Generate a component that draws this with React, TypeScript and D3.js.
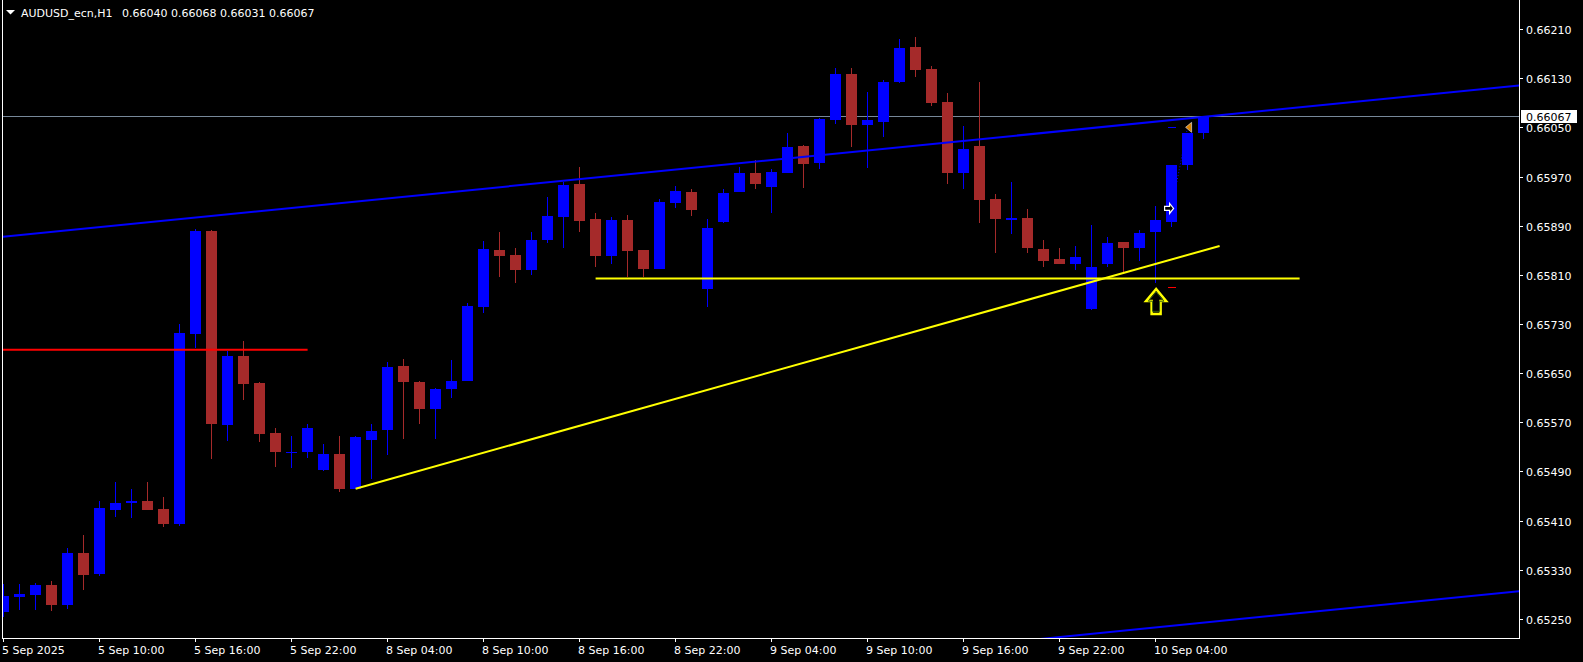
import React, { useEffect, useRef } from "react";
import * as d3 from "d3";

const symbolTitle = "AUDUSD_ecn,H1";
const lastQuote = ["0.66040", "0.66068", "0.66031", "0.66067"];

// hourly bars, 5 Sep 04:00 .. 10 Sep 07:00
const opens = [
  0.65262, 0.65286, 0.65289, 0.65305, 0.65273, 0.65357, 0.65323, 0.65428, 0.65439, 0.65442,
  0.65429, 0.65405, 0.65714, 0.65881, 0.65566, 0.65678, 0.65634, 0.65553, 0.65521, 0.65521,
  0.65493, 0.65518, 0.65462, 0.65542, 0.65558, 0.65662, 0.65636, 0.65591, 0.65624, 0.65638,
  0.65758, 0.6585, 0.65842, 0.65818, 0.65866, 0.65904, 0.65958, 0.65901, 0.6584, 0.65899,
  0.6585, 0.6582, 0.65927, 0.65945, 0.65787, 0.65896, 0.65945, 0.65976, 0.65953, 0.65976,
  0.6602, 0.65992, 0.66062, 0.66137, 0.66053, 0.66059, 0.66123, 0.66181, 0.66145, 0.66091,
  0.65976, 0.6602, 0.65933, 0.659, 0.65902, 0.65852, 0.65835, 0.65828, 0.65754, 0.65828,
  0.65863, 0.65853, 0.65879, 0.65896, 0.65988, 0.6604,
];
const highs = [
  0.65307, 0.65307, 0.65309, 0.65312, 0.65366, 0.65387, 0.65442, 0.65473, 0.65462, 0.65473,
  0.65448, 0.6573, 0.65885, 0.65883, 0.65686, 0.65702, 0.65635, 0.65561, 0.65548, 0.65567,
  0.65535, 0.65548, 0.65548, 0.65567, 0.65668, 0.65673, 0.65637, 0.65626, 0.65671, 0.65764,
  0.65865, 0.6588, 0.65854, 0.6588, 0.65937, 0.65961, 0.65985, 0.65911, 0.65904, 0.65907,
  0.65851, 0.65933, 0.65955, 0.6595, 0.65901, 0.6595, 0.65985, 0.65997, 0.65982, 0.66041,
  0.66021, 0.66065, 0.66147, 0.66147, 0.66108, 0.66127, 0.66194, 0.66197, 0.6615, 0.66106,
  0.66052, 0.66124, 0.65942, 0.65961, 0.65917, 0.65867, 0.65854, 0.65857, 0.65891, 0.65872,
  0.65864, 0.65883, 0.65922, 0.65989, 0.66041, 0.66068,
];
const lows = [
  0.65253, 0.65265, 0.65265, 0.65263, 0.65266, 0.65297, 0.6532, 0.65416, 0.65415, 0.65427,
  0.654, 0.65402, 0.65691, 0.65511, 0.6554, 0.65606, 0.65538, 0.65498, 0.65496, 0.65512,
  0.6549, 0.65457, 0.65461, 0.65478, 0.65517, 0.65543, 0.65568, 0.65543, 0.6561, 0.65637,
  0.65748, 0.65807, 0.65797, 0.65809, 0.65862, 0.65853, 0.65879, 0.65823, 0.65828, 0.65807,
  0.65807, 0.65819, 0.65918, 0.65905, 0.65757, 0.65895, 0.65944, 0.65949, 0.65911, 0.65975,
  0.65952, 0.65983, 0.66056, 0.66018, 0.65984, 0.66035, 0.66122, 0.66132, 0.66084, 0.65958,
  0.65949, 0.65895, 0.65846, 0.65877, 0.65846, 0.65823, 0.65827, 0.65818, 0.65753, 0.65822,
  0.65813, 0.65833, 0.65797, 0.65888, 0.65981, 0.66031,
];
const closes = [
  0.65287, 0.65291, 0.65305, 0.65273, 0.65357, 0.65322, 0.65431, 0.65439, 0.65442, 0.65428,
  0.65405, 0.65715, 0.65881, 0.65568, 0.65678, 0.65633, 0.65551, 0.65521, 0.65522, 0.65561,
  0.65518, 0.65462, 0.65546, 0.65556, 0.6566, 0.65635, 0.65591, 0.65624, 0.65637, 0.65759,
  0.65852, 0.65841, 0.65818, 0.65867, 0.65906, 0.65956, 0.65898, 0.6584, 0.65899, 0.65849,
  0.6582, 0.65928, 0.65946, 0.65916, 0.65886, 0.65943, 0.65976, 0.65957, 0.65977, 0.66018,
  0.65991, 0.66064, 0.66137, 0.66053, 0.66062, 0.66124, 0.66179, 0.66144, 0.6609, 0.65975,
  0.66015, 0.65931, 0.65901, 0.65902, 0.65853, 0.65833, 0.65828, 0.65839, 0.65823, 0.65862,
  0.65853, 0.65878, 0.65899, 0.65989, 0.66041, 0.66067,
];

const timeTickBars = [0, 6, 12, 18, 24, 30, 36, 42, 48, 54, 60, 66, 72];
const timeTickLabels = [
  "5 Sep 2025", "5 Sep 10:00", "5 Sep 16:00", "5 Sep 22:00", "8 Sep 04:00", "8 Sep 10:00",
  "8 Sep 16:00", "8 Sep 22:00", "9 Sep 04:00", "9 Sep 10:00", "9 Sep 16:00", "9 Sep 22:00",
  "10 Sep 04:00",
];
const priceTicks = [
  0.6621, 0.6613, 0.6605, 0.6597, 0.6589, 0.6581, 0.6573, 0.6565, 0.6557, 0.6549, 0.6541,
  0.6533, 0.6525,
];

// drawn objects: [bar, price] anchors
const channelTop: [number, number][] = [[0, 0.65872], [75, 0.66067]];
const channelBottom: [number, number][] = [[0, 0.65049], [75, 0.65244]];
const trendSupport: [number, number][] = [[22, 0.65462], [76, 0.65857]];
const levelSupport: [number, number][] = [[37, 0.65804], [81, 0.65804]];
const levelRed: [number, number][] = [[-2, 0.65688], [19, 0.65688]];
const currentPrice = 0.66067;
const buyArrow: [number, number] = [72, 0.65787];
const tradeOpen: [number, number] = [73, 0.65918];
const tradeClose: [number, number] = [74, 0.6605];
const stopMark: [number, number] = [73, 0.6579];
const takeMark: [number, number] = [73, 0.66051];

const W = 1583;
const H = 662;
const plot = { left: 3, right: 1519, top: 0, bottom: 638 };
const FONT = "'DejaVu Sans', Tahoma, sans-serif";

export default function App() {
  const ref = useRef<SVGSVGElement | null>(null);

  useEffect(() => {
    document.body.style.margin = "0";
    document.body.style.background = "#000";

    const x = d3.scaleLinear().domain([0, 75]).range([3.6, 1203.6]);
    const y = d3.scaleLinear().domain([0.6525, 0.6621]).range([619, 29]);

    const svg = d3.select(ref.current);
    svg.selectAll("*").remove();
    svg.attr("width", W).attr("height", H);

    svg.append("rect").attr("width", W).attr("height", H).attr("fill", "#000");

    svg
      .append("defs")
      .append("clipPath")
      .attr("id", "plotClip")
      .append("rect")
      .attr("x", plot.left)
      .attr("y", plot.top)
      .attr("width", plot.right - plot.left)
      .attr("height", plot.bottom - plot.top);

    const g = svg.append("g").attr("clip-path", "url(#plotClip)");

    const line = d3
      .line<[number, number]>()
      .x((d) => x(d[0]))
      .y((d) => y(d[1]));

    // extend a two-point ray across the plot
    const extend = (pts: [number, number][]): [number, number][] => {
      const [[i0, p0], [i1, p1]] = pts;
      const k = (p1 - p0) / (i1 - i0);
      return [
        [-5, p0 + k * (-5 - i0)],
        [100, p0 + k * (100 - i0)],
      ];
    };

    // current bid line
    g.append("line")
      .attr("x1", plot.left)
      .attr("x2", plot.right)
      .attr("y1", Math.round(y(currentPrice)) - 0.5)
      .attr("y2", Math.round(y(currentPrice)) - 0.5)
      .attr("stroke", "#778899")
      .attr("stroke-width", 1);

    // trade history dotted line
    g.append("path")
      .attr("d", line([tradeOpen, tradeClose]))
      .attr("stroke", "#0000ff")
      .attr("stroke-width", 1)
      .attr("stroke-dasharray", "1,2")
      .attr("fill", "none");

    // candles
    const bars = d3.range(opens.length);
    const cg = g.append("g").attr("shape-rendering", "crispEdges");
    bars.forEach((i) => {
      const up = closes[i] >= opens[i];
      const col = up ? "#0000ff" : "#a52a2a";
      const cx = Math.floor(x(i));
      const yh = Math.round(y(highs[i]));
      const yl = Math.round(y(lows[i]));
      const yTop = Math.round(y(Math.max(opens[i], closes[i])));
      const yBot = Math.round(y(Math.min(opens[i], closes[i])));
      cg.append("rect")
        .attr("x", cx)
        .attr("y", yh)
        .attr("width", 1)
        .attr("height", Math.max(1, yl - yh))
        .attr("fill", col);
      cg.append("rect")
        .attr("x", cx - 5)
        .attr("y", yTop)
        .attr("width", 11)
        .attr("height", Math.max(1, yBot - yTop))
        .attr("fill", col);
    });

    // channel (blue)
    [channelTop, channelBottom].forEach((pts) => {
      g.append("path")
        .attr("d", line(extend(pts)))
        .attr("stroke", "#0000ff")
        .attr("stroke-width", 2)
        .attr("fill", "none");
    });

    // red level
    g.append("path")
      .attr("d", line(levelRed))
      .attr("stroke", "#ff0000")
      .attr("stroke-width", 2)
      .attr("fill", "none");

    // yellow support objects
    [trendSupport, levelSupport].forEach((pts) => {
      g.append("path")
        .attr("d", line(pts))
        .attr("stroke", "#ffff00")
        .attr("stroke-width", 2)
        .attr("fill", "none");
    });

    // small trade marks
    [
      [stopMark, "#ff0000"],
      [takeMark, "#0000ff"],
    ].forEach(([pt, c]) => {
      const p = pt as [number, number];
      g.append("rect")
        .attr("x", Math.floor(x(p[0])) - 3)
        .attr("y", Math.round(y(p[1])))
        .attr("width", 8)
        .attr("height", 1)
        .attr("fill", c as string);
    });

    // close marker (orange triangle)
    {
      const cx = x(tradeClose[0]);
      const cy = y(tradeClose[1]);
      g.append("polygon")
        .attr("points", `${cx - 2},${cy} ${cx + 4},${cy - 5} ${cx + 4},${cy + 5}`)
        .attr("fill", "#d98200")
        .attr("stroke", "#f0f0f0")
        .attr("stroke-width", 0.6);
    }

    // open marker (white hollow arrow)
    {
      const cx = x(tradeOpen[0]) - 2;
      const cy = y(tradeOpen[1]);
      g.append("polygon")
        .attr(
          "points",
          `${cx - 5},${cy - 2} ${cx},${cy - 2} ${cx},${cy - 5} ${cx + 4},${cy} ${cx},${cy + 5} ${cx},${cy + 2} ${cx - 5},${cy + 2}`
        )
        .attr("fill", "#000")
        .attr("stroke", "#fff")
        .attr("stroke-width", 1.2);
    }

    // buy arrow (yellow up arrow)
    {
      const cx = x(buyArrow[0]) + 0.5;
      const top = y(buyArrow[1]);
      const arrow = (s: number) =>
        [
          [0, 0],
          [-10, 12],
          [-4.5, 12],
          [-4.5, 25],
          [4.5, 25],
          [4.5, 12],
          [10, 12],
        ]
          .map(([dx, dy]) => `${cx + dx * s},${top + 13 + (dy - 13) * s}`)
          .join(" ");
      g.append("polygon")
        .attr("points", arrow(1))
        .attr("fill", "#000")
        .attr("stroke", "#ffff00")
        .attr("stroke-width", 2.5);
      g.append("polygon")
        .attr("points", arrow(0.78))
        .attr("fill", "none")
        .attr("stroke", "#2f5a10")
        .attr("stroke-width", 1);
    }

    // frame
    const fr = svg.append("g").attr("shape-rendering", "crispEdges").attr("stroke", "#fff");
    fr.append("line").attr("x1", 2.5).attr("x2", 2.5).attr("y1", 0).attr("y2", plot.bottom + 0.5);
    fr.append("line").attr("x1", plot.right + 0.5).attr("x2", plot.right + 0.5).attr("y1", 0).attr("y2", plot.bottom + 0.5);
    fr.append("line").attr("x1", 2).attr("x2", plot.right + 1).attr("y1", plot.bottom + 0.5).attr("y2", plot.bottom + 0.5);

    // price axis
    priceTicks.forEach((p) => {
      const yy = Math.round(y(p)) + 0.5;
      fr.append("line").attr("x1", plot.right).attr("x2", plot.right + 4).attr("y1", yy).attr("y2", yy);
      svg
        .append("text")
        .attr("x", 1526)
        .attr("y", yy + 4)
        .attr("fill", "#fff")
        .attr("font-family", FONT)
        .attr("font-size", 11)
        .text(p.toFixed(5));
    });

    // current price label
    {
      const yy = Math.round(y(currentPrice));
      svg
        .append("rect")
        .attr("x", 1521)
        .attr("y", yy - 7)
        .attr("width", 56)
        .attr("height", 13)
        .attr("fill", "#fff");
      svg
        .append("text")
        .attr("x", 1526)
        .attr("y", yy + 4)
        .attr("fill", "#000")
        .attr("font-family", FONT)
        .attr("font-size", 11)
        .text(currentPrice.toFixed(5));
    }

    // time axis
    timeTickBars.forEach((b, k) => {
      const xx = Math.floor(x(b)) + 0.5;
      fr.append("line").attr("x1", xx).attr("x2", xx).attr("y1", plot.bottom).attr("y2", plot.bottom + 4);
      svg
        .append("text")
        .attr("x", xx - 1.5)
        .attr("y", 654)
        .attr("fill", "#fff")
        .attr("font-family", FONT)
        .attr("font-size", 11)
        .text(timeTickLabels[k]);
    });

    // header
    svg.append("polygon").attr("points", "6,10 15,10 10.5,14.5").attr("fill", "#fff");
    svg
      .append("text")
      .attr("x", 21)
      .attr("y", 17)
      .attr("fill", "#fff")
      .attr("font-family", FONT)
      .attr("font-size", 11)
      .text(symbolTitle);
    svg
      .append("text")
      .attr("x", 122)
      .attr("y", 17)
      .attr("fill", "#fff")
      .attr("font-family", FONT)
      .attr("font-size", 11)
      .text(lastQuote.join(" "));
  }, []);

  return (
    <div style={{ background: "#000", width: W, height: H }}>
      <svg ref={ref}></svg>
    </div>
  );
}
